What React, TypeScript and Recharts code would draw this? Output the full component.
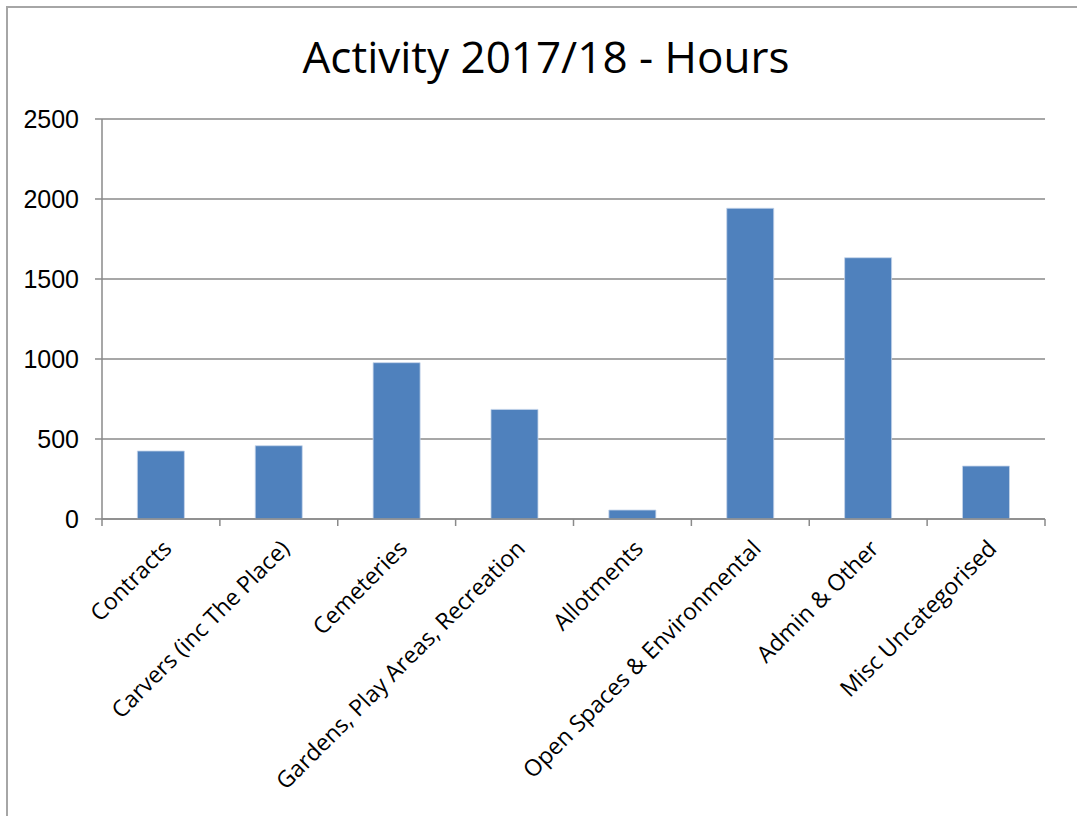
import React from "react";
import { BarChart, Bar, XAxis, YAxis, CartesianGrid } from "recharts";

const categories = [
  "Contracts",
  "Carvers (inc The Place)",
  "Cemeteries",
  "Gardens, Play Areas, Recreation",
  "Allotments",
  "Open Spaces & Environmental",
  "Admin & Other",
  "Misc Uncategorised",
];
const hours = [425, 458, 977, 685, 56, 1942, 1633, 331];
const yTicks = [0, 500, 1000, 1500, 2000, 2500];

const data = categories.map((name, i) => ({ name, hours: hours[i] }));

const GRAY = "#8a8a8a";
const BAND = (1077 - 102 - 32) / categories.length;

function CategoryTick(props: any) {
  const { x, y, payload, index } = props;
  const ax = x + 12;
  const ay = y + 31;
  const left = x - BAND / 2;
  return (
    <g>
      <line x1={left} y1={y} x2={left} y2={y + 7} stroke={GRAY} strokeWidth={1.5} />
      {index === categories.length - 1 && (
        <line x1={x + BAND / 2} y1={y} x2={x + BAND / 2} y2={y + 7} stroke={GRAY} strokeWidth={1.5} />
      )}
      <text
        x={ax}
        y={ay}
        transform={`rotate(-45, ${ax}, ${ay})`}
        textAnchor="end"
        fontFamily="'Open Sans', sans-serif"
        fontSize={23}
        fill="#000"
      >
        {payload.value}
      </text>
    </g>
  );
}

export default function App() {
  return (
    <div
      style={{
        position: "absolute",
        left: 0,
        top: 0,
        width: 1077,
        height: 816,
        overflow: "hidden",
        background: "#fff",
      }}
    >
      <div
        style={{
          position: "absolute",
          left: 6,
          top: 6,
          width: 1200,
          height: 1000,
          borderLeft: "2px solid #a6a6a6",
          borderTop: "2px solid #a6a6a6",
        }}
      />
      <div
        style={{
          position: "absolute",
          left: 0,
          top: 24,
          width: 1092,
          textAlign: "center",
          fontFamily: "'Open Sans', sans-serif",
          fontSize: 44,
          lineHeight: "64px",
          color: "#000",
        }}
      >
        Activity 2017/18 - Hours
      </div>
      <div style={{ position: "absolute", left: 0, top: 0 }}>
        <BarChart
          width={1077}
          height={816}
          data={data}
          margin={{ top: 119, right: 32, left: 0, bottom: 0 }}
          barCategoryGap="30%"
        >
          <CartesianGrid vertical={false} stroke={GRAY} strokeWidth={1.5} />
          <XAxis
            dataKey="name"
            interval={0}
            height={297}
            axisLine={{ stroke: GRAY, strokeWidth: 1.5 }}
            tickLine={false}
            tickSize={0}
            tickMargin={0}
            tick={<CategoryTick />}
          />
          <YAxis
            width={102}
            domain={[0, 2500]}
            ticks={yTicks}
            interval={0}
            tickSize={7}
            tickMargin={16}
            axisLine={{ stroke: GRAY, strokeWidth: 1.5 }}
            tickLine={{ stroke: GRAY, strokeWidth: 1.5 }}
            tick={{ fill: "#000", fontSize: 25, fontFamily: "'Liberation Sans', Arial, sans-serif" }}
          />
          <Bar
            dataKey="hours"
            fill="#4f81bd"
            stroke="#c5d4ea"
            strokeWidth={0.8}
            isAnimationActive={false}
          />
        </BarChart>
      </div>
    </div>
  );
}
